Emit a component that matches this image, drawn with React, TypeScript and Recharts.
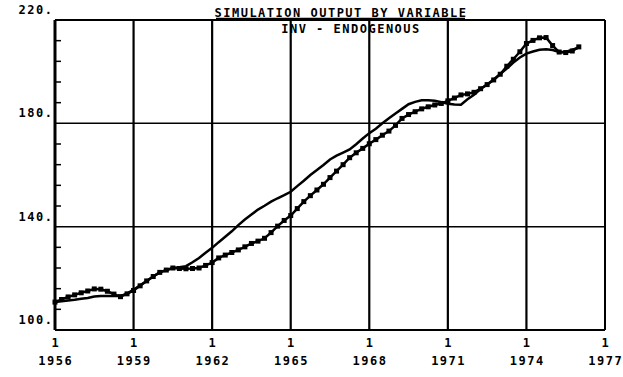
import React from "react";
import { LineChart, Line, XAxis, YAxis, ReferenceLine } from "recharts";

// quarterly observations, 1956 Q1 .. 1976 Q1
const startYear = 1956;

const actualInv = [
  110.8, 111.8, 112.8, 113.6, 114.4, 115.1, 115.9, 115.8, 115.0, 113.9, 112.9,
  114.0, 115.3, 117.1, 119.0, 120.7, 122.3, 123.2, 124.0, 123.8, 123.7, 123.8,
  124.0, 125.0, 126.1, 127.9, 129.0, 130.0, 131.0, 132.2, 133.5, 134.4, 135.5,
  137.7, 140.2, 142.4, 144.3, 147.0, 149.7, 152.0, 154.2, 156.4, 159.0, 161.5,
  164.0, 166.7, 168.6, 170.3, 172.1, 173.7, 175.4, 177.0, 179.2, 181.9, 183.4,
  184.5, 185.6, 186.4, 187.1, 187.7, 188.7, 189.8, 191.0, 191.4, 192.0, 193.4,
  195.0, 196.8, 199.0, 202.1, 204.8, 207.7, 210.9, 212.1, 213.1, 213.2, 210.1,
  207.6, 207.4, 208.0, 209.6,
];

const simulatedInv = [
  110.8, 111.1, 111.4, 111.7, 112.1, 112.4, 113.0, 113.2, 113.2, 113.2, 113.2,
  114.1, 115.6, 117.3, 119.0, 120.7, 122.3, 123.2, 124.0, 124.3, 124.7, 126.2,
  127.9, 129.9, 131.8, 134.0, 136.1, 138.2, 140.6, 142.8, 144.7, 146.6, 148.1,
  149.7, 151.0, 152.2, 153.5, 155.7, 157.8, 160.0, 161.9, 163.9, 166.0, 167.5,
  168.7, 169.9, 171.9, 174.1, 176.2, 177.9, 180.0, 182.0, 183.8, 185.6, 187.4,
  188.3, 188.9, 188.9, 188.7, 188.2, 187.6, 187.3, 187.2, 189.3, 191.1, 193.3,
  195.0, 197.0, 199.1, 201.2, 203.5, 205.5, 207.0, 207.8, 208.5, 208.7, 208.4,
  207.6, 207.6, 208.5, 209.3,
];

const xTicks = [1956, 1959, 1962, 1965, 1968, 1971, 1974, 1977];
const xGridYears = [1959, 1962, 1965, 1968, 1971, 1974];
const yTicks = [100, 108, 116, 124, 132, 140, 148, 156, 164, 172, 180, 188, 196, 204, 212, 220];
const yGrid = [140, 180];

const data = actualInv.map((v, i) => ({
  t: startYear + i / 4,
  actual: v,
  simulated: simulatedInv[i],
}));

const font = {
  fontFamily: "'DejaVu Sans Mono', monospace",
  fontWeight: 700,
  fontSize: 12,
  letterSpacing: 1.5,
  fill: "#000",
};

const XTick = ({ x, y, payload }: any) => (
  <g>
    <text x={x + 0.75} y={y + 17} textAnchor="middle" style={font}>
      1
    </text>
    <text x={x + 0.75} y={y + 35} textAnchor="middle" style={font}>
      {payload.value}
    </text>
  </g>
);

const YTick = ({ x, y, payload }: any) => {
  const major = payload.value % 40 === 20 || payload.value % 40 === 0;
  if (major) {
    return (
      <text x={x - 1.5} y={y - 6} textAnchor="end" style={font}>
        {payload.value}.
      </text>
    );
  }
  return <line x1={x} x2={x + 6} y1={y} y2={y} stroke="#000" strokeWidth={1.5} />;
};

const SquareDot = (p: any) => (
  <rect key={p.index} x={p.cx - 2.5} y={p.cy - 2.5} width={5} height={5} fill="#000" />
);

export default function App() {
  return (
    <div style={{ position: "absolute", left: 0, top: 0, width: 623, height: 377, background: "#fff" }}>
      <LineChart
        width={623}
        height={377}
        data={data}
        margin={{ top: 20, right: 18, left: 0, bottom: 0 }}
      >
        <XAxis
          type="number"
          dataKey="t"
          domain={[1956, 1977]}
          ticks={xTicks}
          interval={0}
          height={47}
          tickLine={false}
          tickSize={0}
          tickMargin={0}
          axisLine={{ stroke: "#000", strokeWidth: 2 }}
          tick={<XTick />}
        />
        <YAxis
          type="number"
          domain={[100, 220]}
          ticks={yTicks}
          interval={0}
          width={55}
          tickLine={false}
          tickSize={0}
          tickMargin={0}
          axisLine={{ stroke: "#000", strokeWidth: 3 }}
          tick={<YTick />}
        />
        {xGridYears.map((yr) => (
          <ReferenceLine key={yr} x={yr} stroke="#000" strokeWidth={2.2} />
        ))}
        <ReferenceLine x={1977} stroke="#000" strokeWidth={2} />
        {yGrid.map((v) => (
          <ReferenceLine key={v} y={v} stroke="#000" strokeWidth={1.5} />
        ))}
        <ReferenceLine y={220} stroke="#000" strokeWidth={1.8} />
        <Line
          type="linear"
          dataKey="simulated"
          stroke="#000"
          strokeWidth={2.5}
          dot={false}
          isAnimationActive={false}
        />
        <Line
          type="linear"
          dataKey="actual"
          stroke="#000"
          strokeWidth={2.5}
          dot={SquareDot}
          isAnimationActive={false}
        />
      </LineChart>
      <svg
        width={623}
        height={377}
        style={{ position: "absolute", left: 0, top: 0, pointerEvents: "none" }}
      >
        <text x={341} y={17} textAnchor="middle" style={font}>
          SIMULATION OUTPUT BY VARIABLE
        </text>
        <line x1={216} x2={465} y1={18.5} y2={18.5} stroke="#000" strokeWidth={1.5} />
        <text x={351} y={33} textAnchor="middle" style={font}>
          INV - ENDOGENOUS
        </text>
      </svg>
    </div>
  );
}
